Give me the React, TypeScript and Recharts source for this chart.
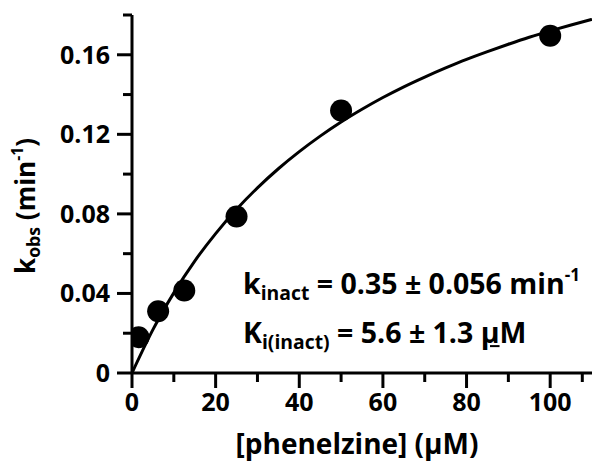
import { ComposedChart, Line, Scatter, XAxis, YAxis } from 'recharts';

// measured points
const concentrations = [1.5625, 6.25, 12.5, 25, 50, 100];
const kobsValues = [0.018, 0.031, 0.0415, 0.0787, 0.132, 0.1696];

// fitted curve, every 5 uM
const fitX = [0, 5, 10, 15, 20, 25, 30, 35, 40, 45, 50, 55, 60, 65, 70, 75, 80, 85, 90, 95, 100, 105, 110];
const fitY = [0, 0.0218, 0.0403, 0.0563, 0.0701, 0.0823, 0.0931, 0.1027, 0.1113, 0.1191, 0.1262, 0.1326, 0.1385, 0.1439, 0.1488, 0.1534, 0.1577, 0.1616, 0.1653, 0.1688, 0.172, 0.175, 0.1778];

const xTicks = [0, 10, 20, 30, 40, 50, 60, 70, 80, 90, 100, 110];
const yTicks = [0, 0.02, 0.04, 0.06, 0.08, 0.1, 0.12, 0.14, 0.16, 0.18];

const points = concentrations.map((x, i) => ({ x, kobs: kobsValues[i] }));
const curve = fitX.map((x, i) => ({ x, fit: fitY[i] }));

const FONT = '"Open Sans", sans-serif';

const XTick = (props: any) => {
  const { x, y, payload } = props;
  const major = payload.value % 20 === 0;
  return (
    <g>
      <line x1={x} y1={y} x2={x} y2={y + (major ? 15 : 9)} stroke="#000" strokeWidth={3} />
      {major && (
        <text x={x} y={y + 38} textAnchor="middle" fontFamily={FONT} fontWeight={700} fontSize={25} fill="#000">
          {payload.value}
        </text>
      )}
    </g>
  );
};

const YTick = (props: any) => {
  const { x, y, payload } = props;
  const v = payload.value;
  const major = Math.round(v * 100) % 4 === 0;
  return (
    <g>
      <line x1={x} y1={y} x2={x - (major ? 15 : 9)} y2={y} stroke="#000" strokeWidth={3} />
      {major && (
        <text x={x - 22} y={y + 9} textAnchor="end" fontFamily={FONT} fontWeight={700} fontSize={25} fill="#000">
          {v === 0 ? '0' : v.toFixed(2)}
        </text>
      )}
    </g>
  );
};

const Dot = (p: any) => <circle cx={p.cx} cy={p.cy} r={11} fill="#000" />;

const sub = { fontSize: '0.68em', verticalAlign: '-0.3em' };
const sup = { fontSize: '0.6em', verticalAlign: '0.75em' };

export default function App() {
  return (
    <div style={{ position: 'absolute', left: 0, top: 0, width: 594, height: 468, background: '#fff', fontFamily: FONT, fontWeight: 700, color: '#000' }}>
      <ComposedChart width={594} height={468} margin={{ top: 15, right: 2, bottom: 0, left: 0 }}>
        <XAxis
          type="number"
          dataKey="x"
          domain={[0, 110]}
          ticks={xTicks}
          height={95}
          tickSize={0}
          tickMargin={0}
          tickLine={false}
          tick={<XTick />}
          axisLine={{ stroke: '#000', strokeWidth: 3 }}
          allowDataOverflow
        />
        <YAxis
          type="number"
          domain={[0, 0.18]}
          ticks={yTicks}
          width={132}
          tickSize={0}
          tickMargin={0}
          tickLine={false}
          tick={<YTick />}
          axisLine={{ stroke: '#000', strokeWidth: 3 }}
          allowDataOverflow
        />
        <Line data={curve} dataKey="fit" type="monotone" stroke="#000" strokeWidth={3} dot={false} isAnimationActive={false} />
        <Scatter data={points} dataKey="kobs" fill="#000" shape={<Dot />} isAnimationActive={false} />
      </ComposedChart>

      <div style={{ position: 'absolute', left: 357, top: 457, transform: 'translate(-50%, -100%)', fontSize: 28, whiteSpace: 'nowrap', lineHeight: 1 }}>
        [phenelzine] (µM)
      </div>
      <div style={{ position: 'absolute', left: 43, top: 206, transform: 'rotate(-90deg)', transformOrigin: '0 0' }}>
        <div style={{ position: 'absolute', left: 0, top: 0, transform: 'translate(-50%, -100%)', fontSize: 26, whiteSpace: 'nowrap', lineHeight: 1 }}>
          k<span style={sub}>obs</span> (min<span style={sup}>-1</span>)
        </div>
      </div>
      <div style={{ position: 'absolute', left: 243, top: 294, transform: 'translateY(-78%)', fontSize: 28.5, whiteSpace: 'nowrap', lineHeight: 1 }}>
        k<span style={sub}>inact</span> = 0.35 ± 0.056 min<span style={sup}>-1</span>
      </div>
      <div style={{ position: 'absolute', left: 243, top: 344, transform: 'translateY(-78%)', fontSize: 28.5, whiteSpace: 'nowrap', lineHeight: 1 }}>
        K<span style={sub}>i(inact)</span> = 5.6 ± 1.3 <span style={{ textDecoration: 'underline' }}>µ</span>M
      </div>
    </div>
  );
}
